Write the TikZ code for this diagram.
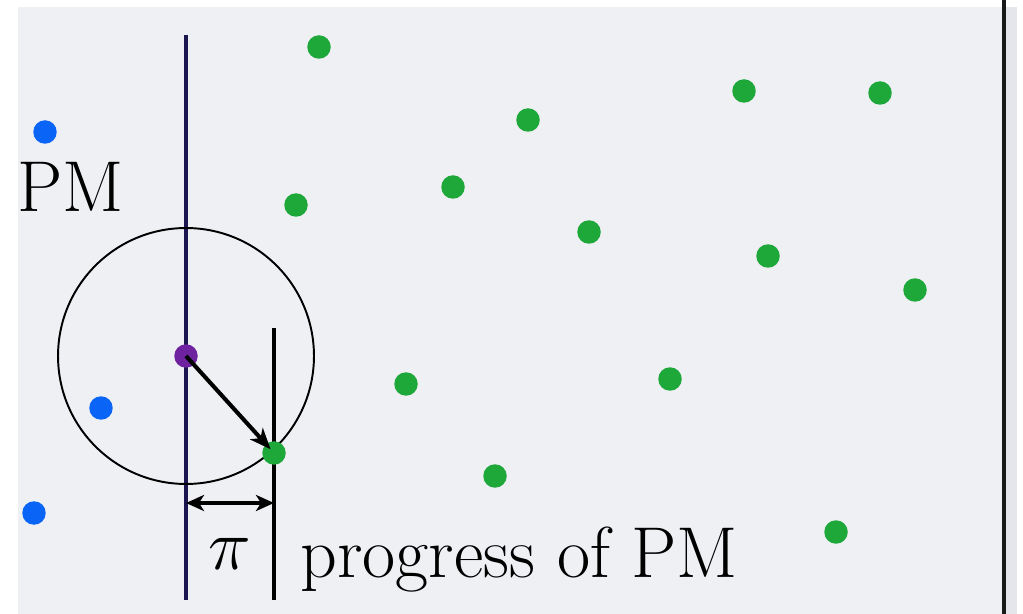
\documentclass[tikz,border=0pt]{standalone}
\usepackage{amsmath}
\usepackage{graphicx}
\usepackage{xcolor}
\usepackage{tikz}
\usetikzlibrary{arrows.meta, calc}
\definecolor{bggrey}{RGB}{238, 240, 243}
\definecolor{edgegrey}{RGB}{228, 230, 236}
\definecolor{dotgreen}{RGB}{30, 168, 58}
\definecolor{dotblue}{RGB}{10, 100, 245}
\definecolor{dotpurple}{RGB}{110, 34, 160}
\definecolor{linenavy}{RGB}{28, 22, 80}

\begin{document}
\begin{tikzpicture}[
        x=0.02cm, y=-0.02cm,
        font=\fontsize{41}{48}\selectfont,
        dot/.style={circle, inner sep=0pt, minimum size=0.47cm},
        goal/.style={dot, fill=dotgreen},
        other/.style={dot, fill=dotblue},
        arr/.style={-{Stealth[length=4.2mm, width=3.4mm, inset=1.2mm]}, line width=2.3pt},
        dbl/.style={{Stealth[length=3.6mm, width=3.2mm, inset=1mm]}-{Stealth[length=3.6mm, width=3.2mm, inset=1mm]}, line width=2pt},
    ]
        % page and background
        \useasboundingbox (0,0) rectangle (1023,614);
        \fill[bggrey] (18,7) rectangle (1006,614);
        \fill[edgegrey] (1006,7) rectangle (1017,614);
        \draw[line width=0.08cm, black!90] (1004,0) -- (1004,614);

        % lines of the PM and of the progress
        \coordinate (pmTop) at (186,35);
        \coordinate (pmBot) at (186,600);
        \coordinate (prTop) at (274,328);
        \coordinate (prBot) at (274,600);
        \draw[linenavy, line width=2.2pt] (pmTop) -- (pmBot);
        \draw[black, line width=2.2pt] (prTop) -- (prBot);

        % neighbourhood circle
        \node[circle, draw, line width=1.1pt, minimum size=5.12cm, inner sep=0pt] (zone) at (186,356) {};

        % blue dots
        \node[other] (b1) at (45,132) {};
        \node[other] (b2) at (101,408) {};
        \node[other] (b3) at (34,513) {};

        % green dots
        \node[goal] (g1)  at (319,47) {};
        \node[goal] (g2)  at (528,120) {};
        \node[goal] (g3)  at (744,91) {};
        \node[goal] (g4)  at (880,93) {};
        \node[goal] (g5)  at (296,205) {};
        \node[goal] (g6)  at (453,187) {};
        \node[goal] (g7)  at (589,232) {};
        \node[goal] (g8)  at (768,256) {};
        \node[goal] (g9)  at (915,290) {};
        \node[goal] (g10) at (406,384) {};
        \node[goal] (g11) at (670,379) {};
        \node[goal] (g12) at (495,476) {};
        \node[goal] (g13) at (836,532) {};
        \node[goal] (g0)  at (274,453) {};

        % current position
        \node[dot, fill=dotpurple] (pm) at (186,356) {};
        \draw[arr, shorten >=-4pt] (pm.center) -- (g0);

        % progress span
        \coordinate (spanL) at (186,503);
        \coordinate (spanR) at (274,503);
        \draw[dbl] (spanL) -- (spanR);

        % labels
        \node[anchor=base west, inner sep=0pt] (pmLabel) at (17,212) {PM};
        \node[anchor=base, inner sep=0pt] (piLabel) at (230,569) {\scalebox{1.65}{$\pi$}};
        \node[anchor=base west, inner sep=0pt] (prLabel) at (300,577) {progress of PM};
    \end{tikzpicture}
\end{document}
